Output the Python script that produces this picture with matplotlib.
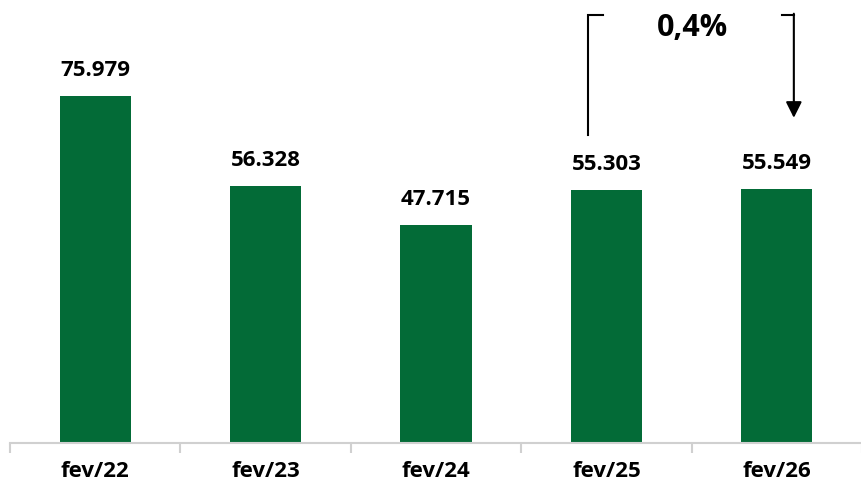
import matplotlib.pyplot as plt
import numpy as np

plt.rcParams['font.family'] = ['Open Sans', 'DejaVu Sans']

months = ['fev/22', 'fev/23', 'fev/24', 'fev/25', 'fev/26']
values = [75979, 56328, 47715, 55303, 55549]
value_labels = ['75.979', '56.328', '47.715', '55.303', '55.549']
change_label = '0,4%'

fig = plt.figure(figsize=(8.61, 4.91), dpi=100)
ax = fig.add_axes([10 / 861, 48 / 491, 852 / 861, 443 / 491])

x = np.arange(len(months))
ax.bar(x, values, width=0.417, color='#036b37', zorder=2)

for xi, v, lab in zip(x, values, value_labels):
    ax.text(xi, v + 3300, lab, ha='center', va='bottom', fontsize=16,
            fontweight='bold', color='black')

ax.set_xlim(-0.5, len(months) - 0.5)
ax.set_ylim(0, 97000)

# axis line with tick marks between categories
for s in ['top', 'right', 'left']:
    ax.spines[s].set_visible(False)
ax.spines['bottom'].set_color('#d0d0d0')
ax.spines['bottom'].set_linewidth(1.5)
ax.set_yticks([])
ax.set_xticks(np.arange(-0.5, len(months), 1.0), minor=False)
ax.set_xticklabels([])
ax.tick_params(axis='x', which='major', length=7, width=1.5, color='#d0d0d0', direction='out')
ax.set_xticks(x, minor=True)
ax.set_xticklabels(months, minor=True)
ax.tick_params(axis='x', which='minor', length=0, pad=13, labelsize=16)
for t in ax.get_xticklabels(minor=True):
    t.set_fontweight('bold')
    t.set_color('black')

# bracket with arrow showing the change
xl, xr = 2.89, 4.10
ytop = 93700
ax.plot([xl, xl, xl + 0.09], [67400, ytop, ytop], color='black', lw=1.5,
        clip_on=False, solid_joinstyle='miter')
ax.plot([xr - 0.07, xr], [ytop, ytop], color='black', lw=1.5, clip_on=False)
ax.annotate('', xy=(xr, 71200), xytext=(xr, ytop + 300),
            arrowprops=dict(arrowstyle='-|>', color='black', lw=1.5,
                            mutation_scale=24, shrinkA=0, shrinkB=0))
ax.text((xl + xr) / 2 + 0.01, 90800, change_label, ha='center', va='center',
        fontsize=22, fontweight='bold', color='black')

fig.savefig('out.png', dpi=100)
